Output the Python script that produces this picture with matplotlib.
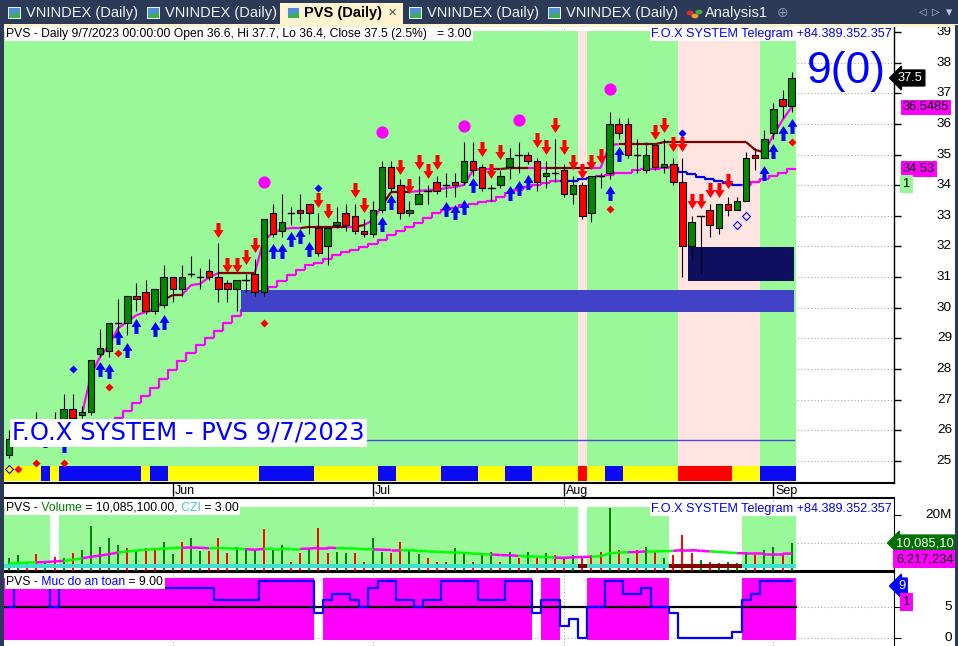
import numpy as np
import matplotlib.pyplot as plt
from matplotlib.patches import Rectangle, Circle, Polygon
from matplotlib.path import Path
from matplotlib.collections import LineCollection
from matplotlib.transforms import blended_transform_factory as blend

plt.rcParams['font.family'] = ['Liberation Sans', 'DejaVu Sans']
nan = float('nan')

# ---------------- price bars ----------------
opens = [25.2, 25.8, 25.6, 26.0, 26.1, 26.2, 26.2, 26.7, 26.5, 26.6,
         28.5, 28.6, 29.5, 29.5, 30.4, 30.5, 29.9, 30.1, 31.0, 30.6,
         31.1, 31.0, 31.2, 31.0, 30.8, 30.6, 30.9, 31.1, 30.5, 33.1,
         32.5, 33.1, 33.2, 33.4, 32.6, 32.0, 32.7, 33.1, 33.0, 32.5,
         32.4, 33.2, 34.6, 34.0, 33.1, 33.4, 33.8, 34.1, 34.0, 34.1,
         34.1, 34.8, 34.6, 33.9, 34.0, 34.6, 35.0, 35.0, 34.8, 34.3,
         34.4, 34.5, 33.7, 34.0, 33.1, 34.3, 34.4, 36.0, 36.0, 35.0,
         34.5, 35.3, 34.6, 34.7, 34.1, 32.0, 33.0, 33.2, 32.6, 33.4,
         33.2, 33.5, 35.0, 34.9, 35.7, 36.8, 36.6]
highs = [26.0, 26.0, 26.1, 26.6, 26.3, 26.6, 27.2, 27.2, 26.8, 28.3,
         29.3, 29.5, 30.3, 30.4, 30.8, 30.9, 30.6, 31.4, 31.0, 31.4,
         31.7, 31.3, 31.6, 32.1, 30.9, 30.9, 31.1, 31.6, 32.9, 33.4,
         33.7, 33.3, 33.7, 33.4, 33.1, 32.6, 33.3, 33.4, 33.4, 32.9,
         33.5, 34.8, 34.8, 34.2, 33.5, 34.3, 34.0, 34.3, 34.4, 34.4,
         35.4, 35.4, 34.7, 34.0, 34.5, 35.2, 35.4, 35.1, 34.9, 34.8,
         35.5, 34.7, 34.3, 34.1, 34.3, 34.4, 36.4, 36.2, 36.2, 35.5,
         35.4, 35.3, 35.5, 34.9, 34.9, 33.0, 33.0, 33.4, 33.4, 33.6,
         33.6, 35.1, 35.2, 35.8, 36.7, 37.1, 37.7]
lows = [25.1, 25.5, 25.5, 25.9, 25.8, 26.0, 26.1, 26.3, 26.4, 26.5,
        28.4, 28.4, 29.1, 29.1, 29.9, 29.8, 29.8, 30.0, 30.2, 30.4,
        31.0, 30.6, 30.9, 30.2, 30.2, 29.9, 30.5, 30.4, 30.4, 32.3,
        32.3, 32.7, 32.8, 32.4, 31.7, 31.4, 32.6, 32.5, 32.4, 32.3,
        32.3, 33.1, 33.8, 32.9, 33.0, 33.4, 33.4, 33.7, 33.6, 33.6,
        34.0, 34.3, 33.8, 33.5, 33.9, 34.2, 34.4, 34.7, 33.8, 33.9,
        34.1, 33.6, 33.4, 32.9, 32.8, 33.9, 34.2, 35.5, 34.9, 34.4,
        34.4, 34.5, 34.4, 34.0, 31.0, 31.6, 31.1, 32.3, 32.4, 33.0,
        33.2, 33.5, 34.5, 34.9, 35.5, 36.2, 36.4]
closes = [25.7, 25.6, 26.0, 26.1, 26.2, 26.3, 26.7, 26.4, 26.6, 28.3,
          28.7, 29.5, 29.5, 30.4, 30.3, 29.9, 30.6, 31.0, 30.6, 31.0,
          31.1, 31.0, 31.0, 30.6, 30.6, 30.9, 30.9, 30.5, 32.9, 32.4,
          32.8, 33.1, 33.1, 33.1, 31.8, 32.6, 32.8, 32.7, 32.5, 32.4,
          33.2, 34.6, 33.9, 33.1, 33.2, 33.7, 33.8, 33.8, 34.0, 34.0,
          34.8, 34.5, 33.9, 33.9, 34.3, 34.9, 35.0, 34.8, 34.1, 34.4,
          34.4, 33.7, 34.0, 33.0, 34.3, 34.3, 36.0, 35.7, 35.0, 35.0,
          35.0, 34.6, 34.7, 34.1, 32.0, 32.8, 33.0, 32.7, 33.4, 33.2,
          33.5, 34.9, 34.9, 35.5, 36.5, 36.6, 37.5]
n = len(closes)

month_pos = [18, 40, 61, 84]
month_lab = ['Jun', 'Jul', 'Aug', 'Sep']

pink_bars = [63, 74, 75, 76, 77, 78, 79, 80, 81, 82]

# upper trailing line (bars 8..86) and its colour m=magenta r=maroon
upper_stop = [nan] * 8 + [
    26.50, 27.81, 28.39, 28.78, 29.34, 29.54, 29.76, 29.86, 29.93, 30.25,
    30.42, 30.42, 30.74, 30.78, 31.00, 31.13, 31.13, 31.13, 31.13, 31.13,
    32.21, 32.44, 32.57, 32.60, 32.60, 32.64, 32.64, 32.64, 32.64, 32.64,
    32.64, 32.70, 32.86, 33.35, 33.78, 33.78, 33.78, 33.81, 33.84, 33.84,
    33.91, 33.94, 34.01, 34.50, 34.53, 34.53, 34.53,
    34.56, 34.56, 34.56, 34.56, 34.56, 34.56, 34.56, 34.56, 34.56, 34.56, 34.56,
    35.31, 35.34, 35.34, 35.34, 35.34, 35.34,
    35.41, 35.41, 35.41, 35.41, 35.41, 35.41, 35.41, 35.41, 35.41, 35.41,
    35.15, 35.08, 35.64, 36.13, 36.5485]
upper_col = ('x' * 8 + 'm' * 10 + 'r' * 2 + 'm' * 4 + 'r' * 4 + 'm' * 5 + 'r' * 5 + 'm' + 'r'
             + 'm' * 2 + 'r' * 3 + 'm' * 9 + 'r' * 4 + 'm' * 2 + 'r' * 5 + 'm' * 3 + 'r' * 16 + 'm' * 3)

# lower staircase stop (bars 12..86)
lower_stop = [nan] * 12 + [
    26.40, 26.63, 26.89, 27.12, 27.38, 27.67, 27.97, 28.26, 28.52, 28.78,
    29.01, 29.24, 29.50, 29.73, 29.93, 30.19, 30.42, 30.68, 30.87, 31.07,
    31.23, 31.40, 31.46, 31.59, 31.72, 31.82, 31.89, 31.98, 32.08, 32.21,
    32.37, 32.51, 32.64, 32.77, 32.93, 33.09, 33.19, 33.26, 33.35, 33.39,
    33.45, 33.48, 33.61, 33.75, 33.84, 33.94, 34.01, 34.07, 34.14, 34.14,
    34.14, 34.20, 34.24, 34.30, 34.33, 34.40, 34.40, 34.50, 34.53, 34.53,
    34.56, 34.59, 34.43, 34.37, 34.27, 34.20, 34.14, 34.07, 34.01, 34.01,
    34.10, 34.20, 34.30, 34.40, 34.53]
lower_blue = [61, 62, 63, 64, 74, 75, 76, 77, 78, 79, 80]

sell_idx = [23, 24, 25, 26, 27, 34, 35, 38, 39, 43, 44, 45, 46, 47, 52, 53, 54,
            58, 59, 60, 61, 62, 63, 64, 65, 71, 72, 73, 74, 75, 76, 77, 78, 79]
sell_px = [32.55, 31.38, 31.38, 31.67, 32.06, 33.53, 33.17, 33.86, 33.37, 34.58,
           33.96, 34.77, 34.48, 34.77, 35.17, 34.48, 35.07, 35.46, 35.26, 35.98,
           35.26, 34.77, 34.48, 34.77, 34.97, 35.75, 35.98, 35.36, 35.36, 33.47,
           33.47, 33.86, 33.86, 34.15]
buy_idx = [4, 6, 10, 11, 12, 13, 14, 16, 17, 28, 29, 30, 31, 32, 33, 41, 42,
           48, 49, 50, 51, 55, 56, 57, 66, 67, 83, 84, 85, 86]
buy_px = [25.68, 25.52, 27.99, 27.92, 29.03, 28.61, 29.42, 29.32, 29.52, 30.25,
          31.84, 31.84, 32.23, 32.33, 31.93, 32.72, 33.44, 33.21, 33.11, 33.30,
          34.02, 33.73, 33.92, 34.12, 33.73, 35.03, 34.41, 35.13, 35.72, 35.92]
circ_idx = [28, 41, 50, 56, 66]
circ_px = [34.10, 35.74, 35.93, 36.13, 37.14]
reddot_idx = [1, 3, 6, 11, 12, 28, 66, 86]
reddot_px = [24.74, 24.93, 24.93, 27.41, 28.52, 29.50, 33.22, 35.41]
bluedot_idx = [7, 34, 74]
bluedot_px = [28.00, 33.91, 35.70]
hollow_idx = [0, 80, 81]
hollow_px = [24.74, 32.70, 32.99]

strip = ('Y' * 4 + 'B' + 'Y' + 'B' * 9 + 'Y' + 'B' * 2 + 'Y' * 10 + 'B' * 6 + 'Y' * 7
         + 'B' * 2 + 'Y' * 5 + 'B' * 4 + 'Y' * 3 + 'B' * 3 + 'Y' * 5 + 'R' + 'Y' * 2
         + 'B' * 2 + 'Y' * 6 + 'R' * 6 + 'Y' * 3 + 'B' * 4)

zone_blue = (26.0, 86.3, 29.86, 30.58)    # first bar, last edge, low, high
zone_navy = (75.1, 86.3, 30.87, 31.98)
ref_level = 25.68

# ---------------- volume panel (millions) ----------------
volume = [4.5, 5.7, 3.3, 5.9, 3.6, 5.1, 4.5, 6.3, 7.5, 16.1,
          8.7, 11.9, 9.3, 8.1, 7.1, 8.1, 8.1, 10.5, 5.9, 10.5,
          11.7, 7.1, 7.1, 11.7, 6.3, 8.7, 8.1, 7.5, 15.0, 7.5,
          9.3, 3.3, 6.3, 8.1, 15.5, 6.3, 6.9, 6.3, 6.3, 3.3,
          11.9, 6.9, 6.3, 10.5, 7.5, 5.9, 4.5, 3.3, 3.3, 8.1,
          5.9, 3.3, 6.3, 6.9, 3.3, 6.9, 4.5, 6.9, 4.5, 6.3,
          5.7, 4.5, 5.7, 4.5, 5.7, 6.9, 22.4, 7.5, 4.5, 7.5,
          8.7, 6.9, 4.5, 5.7, 12.9, 6.3, 3.9, 3.3, 2.8, 3.3,
          2.8, 6.9, 5.7, 7.5, 8.7, 5.9, 10.0851]
vol_col = ('ggrrgrgrgg' 'gggrgrrggr' 'ggrrrgggrg' 'grrgrrggrr'
           'ggrrggrrrg' 'grggrgrgrg' 'rrgrrrgrgr' 'grgrrrgrgg' 'ggrggrg')
vol_ma = [2.8, 2.9, 3.0, 3.1, 3.2, 3.4, 3.6, 4.0, 4.5, 5.1,
          5.5, 6.0, 6.6, 7.0, 7.3, 7.6, 7.8, 8.0, 8.2, 8.3,
          8.4, 8.3, 8.1, 8.2, 8.1, 8.0, 7.8, 7.6, 7.9, 8.0,
          8.0, 7.9, 7.9, 8.0, 8.3, 8.3, 8.2, 8.1, 8.0, 7.8,
          7.7, 7.6, 7.5, 7.5, 7.4, 7.2, 7.0, 6.9, 6.7, 6.6,
          6.5, 6.2, 6.0, 5.9, 5.7, 5.6, 5.4, 5.2, 5.1, 5.0,
          4.8, 4.7, 4.9, 5.0, 5.1, 5.3, 6.3, 6.6, 6.7, 6.8,
          7.0, 7.0, 7.1, 7.2, 7.5, 7.5, 7.2, 7.0, 6.8, 6.6,
          6.4, 6.3, 6.3, 6.2, 6.2, 6.2, 6.217234]
vol_ma_col = ('ggggmmmggm' 'mmmggggggg' 'mmmggggmmg' 'gggmmmmggg'
              'gmmmgggggg' 'ggggmmmggg' 'gmmmmggggm' 'mgggmmmmgg' 'gmmmmmm')
vol_white = [5, 63, 73, 74, 75, 76, 77, 78, 79, 80]

# ---------------- safety level panel ----------------
safety = [5, 9, 9, 9, 9, 5, 9, 9, 9, 9, 9, 9, 9, 9, 9, 9, 9,
          8, 8, 8, 8, 8, 8, 6, 6, 6, 6, 6, 9, 9, 9, 9, 9, 9,
          4, 6, 7, 7, 6, 5, 8, 9, 9, 6, 6, 5, 6, 6, 9, 9, 9, 9,
          6, 6, 6, 9, 9, 9, 4, 6, 6, 2, 3, 0, 5, 5, 9, 9, 7, 7, 8,
          5, 5, 4, 0, 0, 0, 0, 0, 0, 1, 6, 7, 9, 9, 9, 9]

# ---------------- figure ----------------
W, H = 958, 646
NAVY = '#2b3a57'
GREEN_BG = '#99f999'
PINK_BG = '#ffe4e1'
MAG = '#ff00ff'
HDR = 8.7
fig = plt.figure(figsize=(W / 100, H / 100), dpi=100)
fig.patch.set_facecolor(NAVY)
R = fig.canvas.get_renderer()


def box(x0, y0, x1, y1):
    return [x0 / W, 1 - y1 / H, (x1 - x0) / W, (y1 - y0) / H]


def frect(x0, y0, x1, y1, color, z=-1, **kw):
    r = Rectangle((x0 / W, 1 - y1 / H), (x1 - x0) / W, (y1 - y0) / H,
                  transform=fig.transFigure, facecolor=color, edgecolor='none', zorder=z, **kw)
    fig.add_artist(r)
    return r


def ftext(x, y, s, **kw):
    kw.setdefault('va', 'center')
    return fig.text(x / W, 1 - y / H, s, **kw)


def right_edge(x, s, size):
    t = ftext(x, 100, s, fontsize=size)
    x1 = t.get_window_extent(R).x1
    t.remove()
    return x1


def rich(x, y, parts, size, h=14):
    # pieces end with a non-space char, spaces lead the next piece
    full = ''.join(p for p, _ in parts)
    frect(x - 1, y - h / 2, right_edge(x, full, size) + 2, y + h / 2, 'white', z=2)
    pos = x
    pre = ''
    for s, c in parts:
        ftext(pos, y, s, color=c, fontsize=size)
        pre += s
        pos = right_edge(x, pre, size) + 0.6


frect(4, 25, 955, 646, 'white', z=-1)
xl = (-0.55, 97.25)
xs = np.arange(n)

# ======== main price panel ========
ax = fig.add_axes(box(4, 25, 894, 483))
ax.set_xlim(*xl)
ax.set_ylim(24.28, 39.23)
ax.set_facecolor('white')
for s in ['left', 'top']:
    ax.spines[s].set_visible(False)
ax.spines['right'].set_linewidth(1.0)
ax.spines['bottom'].set_linewidth(1.5)
ax.yaxis.tick_right()
ax.set_yticks(range(25, 40))
ax.tick_params(axis='y', direction='out', length=5, width=1, labelright=False)
ax.set_xticks(month_pos)
ax.tick_params(axis='x', direction='out', length=9, width=1, labelbottom=False)
for p in range(25, 40):
    ax.axhline(p, color='#a8a8a8', lw=0.8, ls=(0, (1, 2)), zorder=0.5)
for m in month_pos:
    ax.axvline(m, color='#a8a8a8', lw=0.8, ls=(0, (1, 2)), zorder=0.5)

bg_cols = [PINK_BG if i in pink_bars else GREEN_BG for i in range(n)]
ax.bar(xs, 39.03 - 24.35, bottom=24.35, width=1.0, color=bg_cols, lw=0, antialiased=False, zorder=1)
strip_map = {'Y': '#ffff00', 'B': '#0a0af5', 'R': '#ff0000'}
ax.bar(xs, 24.84 - 24.35, bottom=24.35, width=1.0, color=[strip_map[c] for c in strip],
       lw=0, antialiased=False, zorder=1.2)

# lower staircase line
segs, cols = [], []
for i in range(1, n):
    if np.isnan(lower_stop[i]):
        continue
    prev = lower_stop[i - 1] if not np.isnan(lower_stop[i - 1]) else lower_stop[i]
    segs.append([(i - 0.5, prev), (i - 0.5, lower_stop[i]), (i + 0.5, lower_stop[i])])
    cols.append('#0000ff' if i in lower_blue else MAG)
ax.add_collection(LineCollection(segs, colors=cols, linewidths=1.6, zorder=2, capstyle='butt'))

# upper trailing line
segs, cols = [], []
for i in range(1, n):
    if np.isnan(upper_stop[i]) or np.isnan(upper_stop[i - 1]):
        continue
    segs.append([(i - 1, upper_stop[i - 1]), (i, upper_stop[i])])
    cols.append('#800000' if upper_col[i] == 'r' else MAG)
ax.add_collection(LineCollection(segs, colors=cols, linewidths=1.6, zorder=2.1))

ax.plot([0, zone_blue[1]], [ref_level, ref_level], color='#4a4ae0', lw=1.0, zorder=2)

# arrows
up_v = [(0, 1), (0.67, -0.05), (0.27, -0.05), (0.27, -1), (-0.27, -1), (-0.27, -0.05), (-0.67, -0.05), (0, 1)]
up_arrow = Path(up_v, closed=True)
dn_arrow = Path([(x, -y) for x, y in up_v], closed=True)
ax.plot(buy_idx, buy_px, ls='none', marker=up_arrow, ms=10.8, color='#0000ff', mew=0, zorder=3)
ax.plot(sell_idx, sell_px, ls='none', marker=dn_arrow, ms=10.8, color='#ff0000', mew=0, zorder=3)

# zones
ax.add_patch(Rectangle((zone_blue[0] - 0.5, zone_blue[2]), zone_blue[1] - zone_blue[0] + 0.5,
                       zone_blue[3] - zone_blue[2], facecolor='#4242c8', edgecolor='none', zorder=4))
ax.add_patch(Rectangle((zone_navy[0] - 0.5, zone_navy[2]), zone_navy[1] - zone_navy[0] + 0.5,
                       zone_navy[3] - zone_navy[2], facecolor='#0f0f60', edgecolor='none', zorder=4))

# candles
bw = 0.36
for i in range(n):
    o, h, l, c = opens[i], highs[i], lows[i], closes[i]
    ax.plot([i, i], [l, h], color='black', lw=0.8, zorder=5, solid_capstyle='butt')
    if abs(c - o) < 0.05:
        ax.plot([i - bw, i + bw], [c, c], color='black', lw=1.0, zorder=5.2)
    else:
        ax.add_patch(Rectangle((i - bw, min(o, c)), 2 * bw, abs(c - o),
                               facecolor='#008a00' if c > o else '#ff0000',
                               edgecolor='black', lw=0.8, zorder=5.1))

ax.plot(circ_idx, circ_px, 'o', ms=8.8, color=MAG, mec='none', zorder=6)
ax.plot(reddot_idx, reddot_px, 'D', ms=4.2, color='#ff0000', mec='none', zorder=6)
ax.plot(bluedot_idx, bluedot_px, 'D', ms=4.2, color='#0000ff', mec='none', zorder=6)
ax.plot(hollow_idx, hollow_px, 'D', ms=4.2, mfc='none', mec='#0000ff', mew=0.8, zorder=6)

# right labels of price panel
TK = 9.7
LB = 9.3
trp = blend(fig.transFigure, ax.transData)
for p in range(25, 40):
    fig.text(952 / W, p, str(p), transform=trp, ha='right', va='center', fontsize=TK)
fig.text(898 / W, closes[-1], f'{closes[-1]}', transform=trp, ha='left', va='center', fontsize=LB,
         color='white', bbox=dict(boxstyle='larrow,pad=0.15', fc='black', ec='black'))
fig.text(903 / W, upper_stop[-1], f'{upper_stop[-1]}', transform=trp, ha='left', va='center',
         fontsize=LB, color='black', bbox=dict(boxstyle='square,pad=0.12', fc=MAG, ec='none'))
fig.text(903 / W, lower_stop[-1], f'{lower_stop[-1]:.2f}', transform=trp, ha='left', va='center',
         fontsize=LB, color='black', bbox=dict(boxstyle='square,pad=0.12', fc=MAG, ec='none'))
fig.text(903 / W, lower_stop[-1] - 0.5, '1', transform=trp, ha='left', va='center',
         fontsize=LB, color='black', bbox=dict(boxstyle='square,pad=0.22', fc=GREEN_BG, ec='none'))

# date labels
trd = blend(ax.transData, fig.transFigure)
for m, lab in zip(month_pos, month_lab):
    fig.text(m + 0.25, 1 - 491 / H, lab, transform=trd, ha='left', va='center', fontsize=9)

pct = (closes[-1] / closes[-2] - 1) * 100
hdr = (f'PVS - Daily 9/7/2023 00:00:00 Open {opens[-1]}, Hi {highs[-1]}, Lo {lows[-1]}, '
       f'Close {closes[-1]} ({pct:.1f}%)   = 3.00')
ftext(6, 34, hdr, fontsize=HDR, bbox=dict(boxstyle='square,pad=0.12', fc='white', ec='none'))
ftext(892, 34, 'F.O.X SYSTEM Telegram +84.389.352.357', ha='right', fontsize=9.1, color='#0000ff',
      bbox=dict(boxstyle='square,pad=0.1', fc='white', ec='none'))
ftext(846, 72, '9(0)', ha='center', fontsize=32, color='#0000ff')
ftext(12, 433, 'F.O.X SYSTEM - PVS 9/7/2023', fontsize=17.5, color='#0000ff', family='DejaVu Sans',
      bbox=dict(boxstyle='square,pad=0.1', fc='white', ec='none'))

# ======== volume panel ========
av = fig.add_axes(box(4, 498, 894, 571))
av.set_xlim(*xl)
av.set_ylim(0, 26.07)
av.spines['left'].set_visible(False)
for s in ['top', 'bottom']:
    av.spines[s].set_linewidth(1.5)
av.yaxis.tick_right()
av.set_yticks([10, 20])
av.tick_params(axis='y', direction='out', length=5, labelright=False)
av.set_xticks([])
for p in [10, 20]:
    av.axhline(p, color='#a8a8a8', lw=0.8, ls=(0, (1, 2)), zorder=0.5)
for m in month_pos:
    av.axvline(m, color='#a8a8a8', lw=0.8, ls=(0, (1, 2)), zorder=0.5)
vbg = ['white' if i in vol_white else GREEN_BG for i in range(n)]
av.bar(xs, 22.9 - 1.2, bottom=1.2, width=1.0, color=vbg, lw=0, antialiased=False, zorder=1)
av.vlines(xs, 0, volume, colors=['#008000' if c == 'g' else '#ff0000' for c in vol_col], lw=1.4, zorder=3)
czi = ['#800000' if i in vol_white[1:] else '#40e0d0' for i in range(n)]
av.bar(xs, 1.3, bottom=1.2, width=1.0, color=czi, lw=0, antialiased=False, zorder=3.5)
segs, cols = [], []
for i in range(1, n):
    segs.append([(i - 1, vol_ma[i - 1]), (i, vol_ma[i])])
    cols.append('#00ff00' if vol_ma_col[i] == 'g' else MAG)
av.add_collection(LineCollection(segs, colors=cols, linewidths=1.8, zorder=4))

trv = blend(fig.transFigure, av.transData)
fig.text(952 / W, 20, '20M', transform=trv, ha='right', va='center', fontsize=TK)
ftext(896, 543, f'{volume[-1] * 1e6:,.0f}'[:9], ha='left', fontsize=LB, color='white',
      bbox=dict(boxstyle='larrow,pad=0.15', fc='#007000', ec='#007000'))
ftext(896, 559, f'{vol_ma[-1] * 1e6:,.0f}', ha='left', fontsize=LB, color='black',
      bbox=dict(boxstyle='square,pad=0.2', fc=MAG, ec='none'))

rich(6, 508, [('PVS -', 'black'), (' Volume', '#008000'),
              (f' = {volume[-1] * 1e6:,.2f},', 'black'), (' CZI', '#40c8d0'), (' = 3.00', 'black')], HDR)
ftext(892, 509, 'F.O.X SYSTEM Telegram +84.389.352.357', ha='right', fontsize=9.1, color='#0000ff',
      bbox=dict(boxstyle='square,pad=0.1', fc='white', ec='none'))

# ======== safety panel ========
asf = fig.add_axes(box(4, 572, 894, 646))
asf.set_xlim(*xl)
asf.set_ylim(-1.21, 10.48)
for s in ['left', 'bottom']:
    asf.spines[s].set_visible(False)
asf.spines['top'].set_linewidth(1.5)
asf.yaxis.tick_right()
asf.set_yticks([0, 5])
asf.tick_params(axis='y', direction='out', length=5, labelright=False)
asf.set_xticks([])
for p in [0, 5]:
    asf.axhline(p, color='#a8a8a8', lw=0.8, ls=(0, (1, 2)), zorder=0.5)
for m in month_pos:
    asf.axvline(m, color='#a8a8a8', lw=0.8, ls=(0, (1, 2)), zorder=0.5)
safe_col = [MAG if v >= 5 else 'none' for v in safety]
asf.bar(xs, 9.75, bottom=-0.25, width=1.0, color=safe_col, lw=0, antialiased=False, zorder=1)
asf.plot([-0.5, n - 0.5], [5, 5], color='black', lw=1.6, zorder=2)
asf.step(xs, safety, where='mid', color='#0000ff', lw=1.6, zorder=3)
trs = blend(fig.transFigure, asf.transData)
fig.text(952 / W, 5, '5', transform=trs, ha='right', va='center', fontsize=TK)
fig.text(952 / W, 0, '0', transform=trs, ha='right', va='center', fontsize=TK)
ftext(898, 586, str(safety[-1]), ha='left', fontsize=LB, color='white',
      bbox=dict(boxstyle='larrow,pad=0.15', fc='#0000ff', ec='#0000ff'))
ftext(903, 602, '1', ha='left', fontsize=LB, color='black',
      bbox=dict(boxstyle='square,pad=0.22', fc=MAG, ec='none'))
rich(6, 582, [('PVS -', 'black'), (' Muc do an toan', '#0000ff'), (f' = {safety[-1]:.2f}', 'black')], HDR)

# ======== tab bar ========
frect(0, 24, W, 27, '#fdf3cf', z=5)
frect(0, 0, 4, H, NAVY, z=9)
frect(955, 25, W, H, NAVY, z=9)
frect(280, 3, 403, 25, '#fdf3cf', z=5)


def tab_icon(x):
    frect(x, 7, x + 13, 19, '#e8f0fa', z=6)
    frect(x + 1, 8, x + 12, 18, '#4f8fd8', z=6.1)
    fig.add_artist(Polygon([((x + 1) / W, 1 - 18 / H), ((x + 4) / W, 1 - 13 / H), ((x + 7) / W, 1 - 15 / H),
                            ((x + 12) / W, 1 - 11 / H), ((x + 12) / W, 1 - 18 / H)],
                           closed=True, transform=fig.transFigure, fc='#3cb043', ec='none', zorder=6.2))


for ix, tx, label in [(8, 26, 'VNINDEX (Daily)'), (147, 165, 'VNINDEX (Daily)'),
                      (409, 427, 'VNINDEX (Daily)'), (548, 566, 'VNINDEX (Daily)')]:
    tab_icon(ix)
    ftext(tx, 13, label, fontsize=10.5, color='#f2f2f2', zorder=7)
tab_icon(287)
ftext(304, 13, 'PVS (Daily)', fontsize=10.5, color='black', fontweight='bold', zorder=7)
ftext(388, 13, '✕', fontsize=8, color='#505050', zorder=7)
for dx, dy, c in [(0, 0, '#e03030'), (5, 3, '#f0a020'), (9, -1, '#40b040')]:
    fig.add_artist(Circle(((690 + dx) / W, 1 - (13 + dy) / H), 3.5 / W, transform=fig.transFigure,
                          fc=c, ec='none', zorder=7))
ftext(705, 13, 'Analysis1', fontsize=10.5, color='#f2f2f2', zorder=7)
ftext(783, 13, '⊕', fontsize=10, color='#8090a8', ha='center', zorder=7)
ftext(923, 12, '◁', fontsize=7, color='#c0c8d8', ha='center', zorder=7)
ftext(936, 12, '▷', fontsize=7, color='#c0c8d8', ha='center', zorder=7)
ftext(949, 13, '▾', fontsize=9, color='#c0c8d8', ha='center', zorder=7)

fig.savefig('out.png', dpi=100, facecolor=NAVY)
